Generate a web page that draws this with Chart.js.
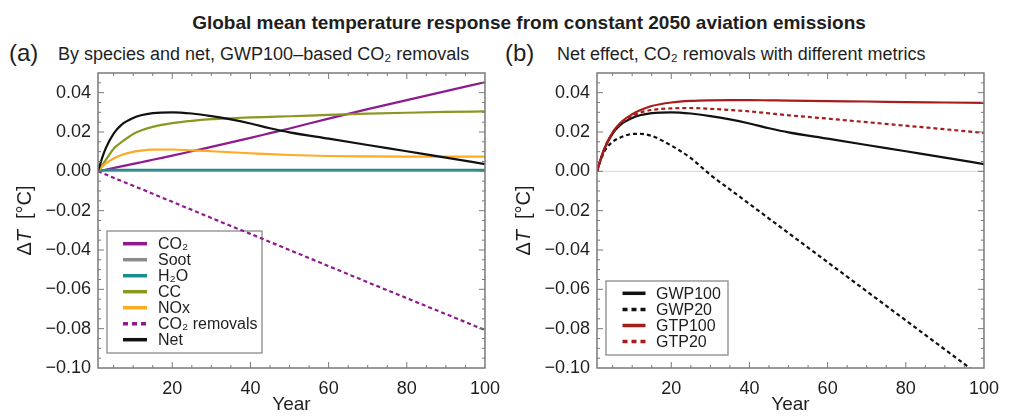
<!DOCTYPE html>
<html><head><meta charset="utf-8">
<script src="https://cdn.jsdelivr.net/npm/chart.js@4.4.1/dist/chart.umd.min.js"></script>
<style>
html,body{margin:0;padding:0;background:#fff;}
body{width:1009px;height:419px;position:relative;overflow:hidden;font-family:"Liberation Sans",Arial,sans-serif;color:#1e1e1e;}
#title{position:absolute;left:0;width:1058px;top:12px;text-align:center;font-weight:bold;font-size:19px;white-space:nowrap;}
.lab{position:absolute;font-size:24px;top:39px;white-space:nowrap;}
.sub{position:absolute;font-size:18px;top:44px;white-space:nowrap;}
.wrap{position:absolute;top:0;width:510px;height:419px;}
canvas{position:absolute;left:0;top:0;}
</style></head>
<body>
<div id="title">Global mean temperature response from constant 2050 aviation emissions</div>
<div class="lab" style="left:9px">(a)</div>
<div class="sub" style="left:58px">By species and net, GWP100–based CO₂ removals</div>
<div class="lab" style="left:505px">(b)</div>
<div class="sub" style="left:557px">Net effect, CO₂ removals with different metrics</div>
<div class="wrap" style="left:0"><canvas id="ca" width="510" height="419"></canvas></div>
<div class="wrap" style="left:499px"><canvas id="cb" width="510" height="419"></canvas></div>
<script>
// ---- data ----
const years    = [1,2,3,5,7,10,12,15,20,25,30,35,40,45,50,60,70,80,90,100];
const co2      = [0,0.0004,0.0008,0.0017,0.0025,0.0038,0.0046,0.0059,0.0080,0.0102,0.0124,0.0147,0.0170,0.0194,0.0218,0.0268,0.0316,0.0362,0.0408,0.0453];
const soot     = [0,0.0002,0.0003,0.0003,0.0003,0.0003,0.0003,0.0003,0.0003,0.0003,0.0003,0.0003,0.0003,0.0003,0.0003,0.0003,0.0003,0.0003,0.0003,0.0003];
const h2o      = [0,0.0005,0.0007,0.0008,0.0008,0.0008,0.0008,0.0008,0.0008,0.0008,0.0008,0.0008,0.0008,0.0008,0.0008,0.0008,0.0008,0.0008,0.0008,0.0008];
const cc       = [0,0.0030,0.0058,0.0115,0.0148,0.0190,0.0208,0.0226,0.0245,0.0257,0.0265,0.0270,0.0274,0.0277,0.0280,0.0287,0.0293,0.0298,0.0302,0.0305];
const nox      = [0,0.0022,0.0040,0.0065,0.0083,0.0099,0.0105,0.0110,0.0111,0.0107,0.0102,0.0097,0.0092,0.0087,0.0083,0.0078,0.0076,0.0075,0.0075,0.0075];
const removals = [0,-0.0008,-0.0016,-0.0033,-0.0049,-0.0073,-0.0089,-0.0114,-0.0155,-0.0196,-0.0237,-0.0278,-0.0318,-0.0359,-0.0400,-0.0482,-0.0564,-0.0645,-0.0726,-0.0807];
const net      = [0,0.0065,0.0118,0.0192,0.0236,0.0271,0.0285,0.0296,0.0300,0.0294,0.0281,0.0264,0.0243,0.0219,0.0198,0.0166,0.0134,0.0102,0.0070,0.0037];
const gwp100   = net;
const gwp20    = [0,0.0060,0.0105,0.0150,0.0172,0.0190,0.0191,0.0180,0.0131,0.0067,-0.0018,-0.0092,-0.0166,-0.0240,-0.0314,-0.0462,-0.0610,-0.0758,-0.0906,-0.1054];
const gtp100   = [0,0.0066,0.0122,0.0198,0.0247,0.0290,0.0310,0.0332,0.0350,0.0358,0.0361,0.0362,0.0362,0.0361,0.0360,0.0357,0.0355,0.0352,0.0350,0.0348];
const gtp20    = [0,0.0066,0.0121,0.0196,0.0242,0.0282,0.0298,0.0312,0.0320,0.0322,0.0318,0.0312,0.0305,0.0295,0.0285,0.0268,0.0250,0.0232,0.0214,0.0195];
const labelsA  = ['CO₂','Soot','H₂O','CC','NOx','CO₂ removals','Net'];
const labelsB  = ['GWP100','GWP20','GTP100','GTP20'];
const xTicks   = [20,40,60,80,100];
const yTicks   = [-0.10,-0.08,-0.06,-0.04,-0.02,0.00,0.02,0.04];

const FAM = "'Liberation Sans', Arial, sans-serif";
const TXT = '#1e1e1e';
Chart.defaults.font.family = FAM;
Chart.defaults.color = TXT;

const pts = arr => years.map((x,i)=>({x:x,y:arr[i]}));
const DOT = [4,3];

function ds(label, arr, color, dashed, order){
  return {label, data:pts(arr), borderColor:color, backgroundColor:color, borderWidth:2.2,
          borderDash: dashed?DOT:[], pointRadius:0, fill:false, order, cubicInterpolationMode:'monotone'};
}

const framePlugin = {
  id:'frame',
  beforeDatasetsDraw(chart, args, opts){
    const {ctx, chartArea:a, scales:{x,y}} = chart;
    ctx.save();
    const y0 = y.getPixelForValue(0);
    ctx.strokeStyle='#d4d4d4'; ctx.lineWidth=1;
    ctx.beginPath(); ctx.moveTo(a.left,y0); ctx.lineTo(a.right,y0); ctx.stroke();
    const L = opts.legend;
    ctx.fillStyle='#fff'; ctx.fillRect(L.x,L.y,L.w,L.h);
    ctx.strokeStyle='#9a9a9a'; ctx.lineWidth=1.5; ctx.strokeRect(L.x,L.y,L.w,L.h);
    chart.data.datasets.forEach((d,i)=>{
      const yy = L.y0 + i*L.dy;
      ctx.strokeStyle=d.borderColor; ctx.lineWidth=3.5;
      ctx.setLineDash(d.borderDash.length?[5,4]:[]);
      ctx.beginPath(); ctx.moveTo(L.sx0,yy); ctx.lineTo(L.sx1,yy); ctx.stroke();
      ctx.setLineDash([]);
      ctx.fillStyle=TXT; ctx.font='16px '+FAM; ctx.textBaseline='middle'; ctx.textAlign='left';
      ctx.fillText(d.label, L.tx, yy+1);
    });
    ctx.restore();
  },
  afterDatasetsDraw(chart){
    const {ctx, chartArea:a, scales:{x,y}} = chart;
    ctx.save();
    ctx.strokeStyle='#7a7a7a'; ctx.lineWidth=1;
    ctx.beginPath();
    for(let v=5; v<100; v+=5){
      const px = x.getPixelForValue(v);
      const len = (v%20===0)?6:3;
      ctx.moveTo(px,a.bottom); ctx.lineTo(px,a.bottom-len);
      ctx.moveTo(px,a.top); ctx.lineTo(px,a.top+len);
    }
    for(let i=-19;i<=9;i++){
      const py = y.getPixelForValue(i*0.005);
      const len = (i%4===0)?6:3;
      ctx.moveTo(a.left,py); ctx.lineTo(a.left+len,py);
      ctx.moveTo(a.right,py); ctx.lineTo(a.right-len,py);
    }
    ctx.stroke();
    ctx.strokeStyle='#7a7a7a'; ctx.lineWidth=1.5;
    ctx.strokeRect(a.left,a.top,a.right-a.left,a.bottom-a.top);
    ctx.restore();
  },
  afterDraw(chart){
    const {ctx, chartArea:a} = chart;
    ctx.save();
    ctx.translate(25,(a.top+a.bottom)/2);
    ctx.rotate(-Math.PI/2);
    ctx.fillStyle=TXT; ctx.textBaseline='middle'; ctx.textAlign='left';
    const parts=[['Δ','20px '+FAM],['T','italic 20px '+FAM],['  [°C]','20px '+FAM]];
    let w=0; parts.forEach(p=>{ctx.font=p[1]; w+=ctx.measureText(p[0]).width;});
    let cx=-w/2;
    parts.forEach(p=>{ctx.font=p[1]; ctx.fillText(p[0],cx,0); cx+=ctx.measureText(p[0]).width;});
    ctx.restore();
  }
};

const fmt = v => { const s = Math.abs(v)<1e-9 ? '0.00' : v.toFixed(2); return s.replace('-','\u2212'); };

function makeChart(id, datasets, legend){
  return new Chart(document.getElementById(id), {
    type:'line',
    data:{datasets},
    options:{
      responsive:false, animation:false,
      layout:{padding:{left:0,top:73,right:17,bottom:0}},
      plugins:{legend:{display:false}, tooltip:{enabled:false}, frame:{legend}},
      scales:{
        x:{type:'linear', min:1, max:100,
           grid:{display:false, drawTicks:false}, border:{display:false},
           afterBuildTicks: s=>{ s.ticks = xTicks.map(v=>({value:v})); },
           afterFit: s=>{ s.height = 51; },
           ticks:{padding:10, color:TXT, font:{size:18}, maxRotation:0, autoSkip:false, callback:v=>String(v)},
           title:{display:true, text:'Year', color:TXT, font:{size:19}, padding:{top:0,bottom:3}}},
        y:{type:'linear', min:-0.10, max:0.05,
           grid:{display:false, drawTicks:false}, border:{display:false},
           afterBuildTicks: s=>{ s.ticks = yTicks.map(v=>({value:v})); },
           afterFit: s=>{ s.width = 98; },
           ticks:{padding:7, color:TXT, font:{size:18}, autoSkip:false, callback:v=>fmt(v)}}
      }
    },
    plugins:[framePlugin]
  });
}

const PURPLE='#8e1b8e', GRAY='#8a8a8a', TEAL='#1a8e8e', OLIVE='#8c9722', ORANGE='#ffaa22', BLACK='#111111', RED='#a51d1d';

makeChart('ca', [
  ds(labelsA[0], co2, PURPLE, false, 6),
  ds(labelsA[1], soot, GRAY, false, 5),
  ds(labelsA[2], h2o, TEAL, false, 4),
  ds(labelsA[3], cc, OLIVE, false, 3),
  ds(labelsA[4], nox, ORANGE, false, 2),
  ds(labelsA[5], removals, PURPLE, true, 1),
  ds(labelsA[6], net, BLACK, false, 0)
], {x:107,y:231,w:155,h:122,y0:243.7,dy:16,sx0:123,sx1:147,tx:158});

makeChart('cb', [
  ds(labelsB[0], gwp100, BLACK, false, 2),
  ds(labelsB[1], gwp20, BLACK, true, 3),
  ds(labelsB[2], gtp100, RED, false, 0),
  ds(labelsB[3], gtp20, RED, true, 1)
], {x:107,y:281,w:122,h:74,y0:293.3,dy:16.1,sx0:123.5,sx1:146.5,tx:157});
</script>
</body></html>
